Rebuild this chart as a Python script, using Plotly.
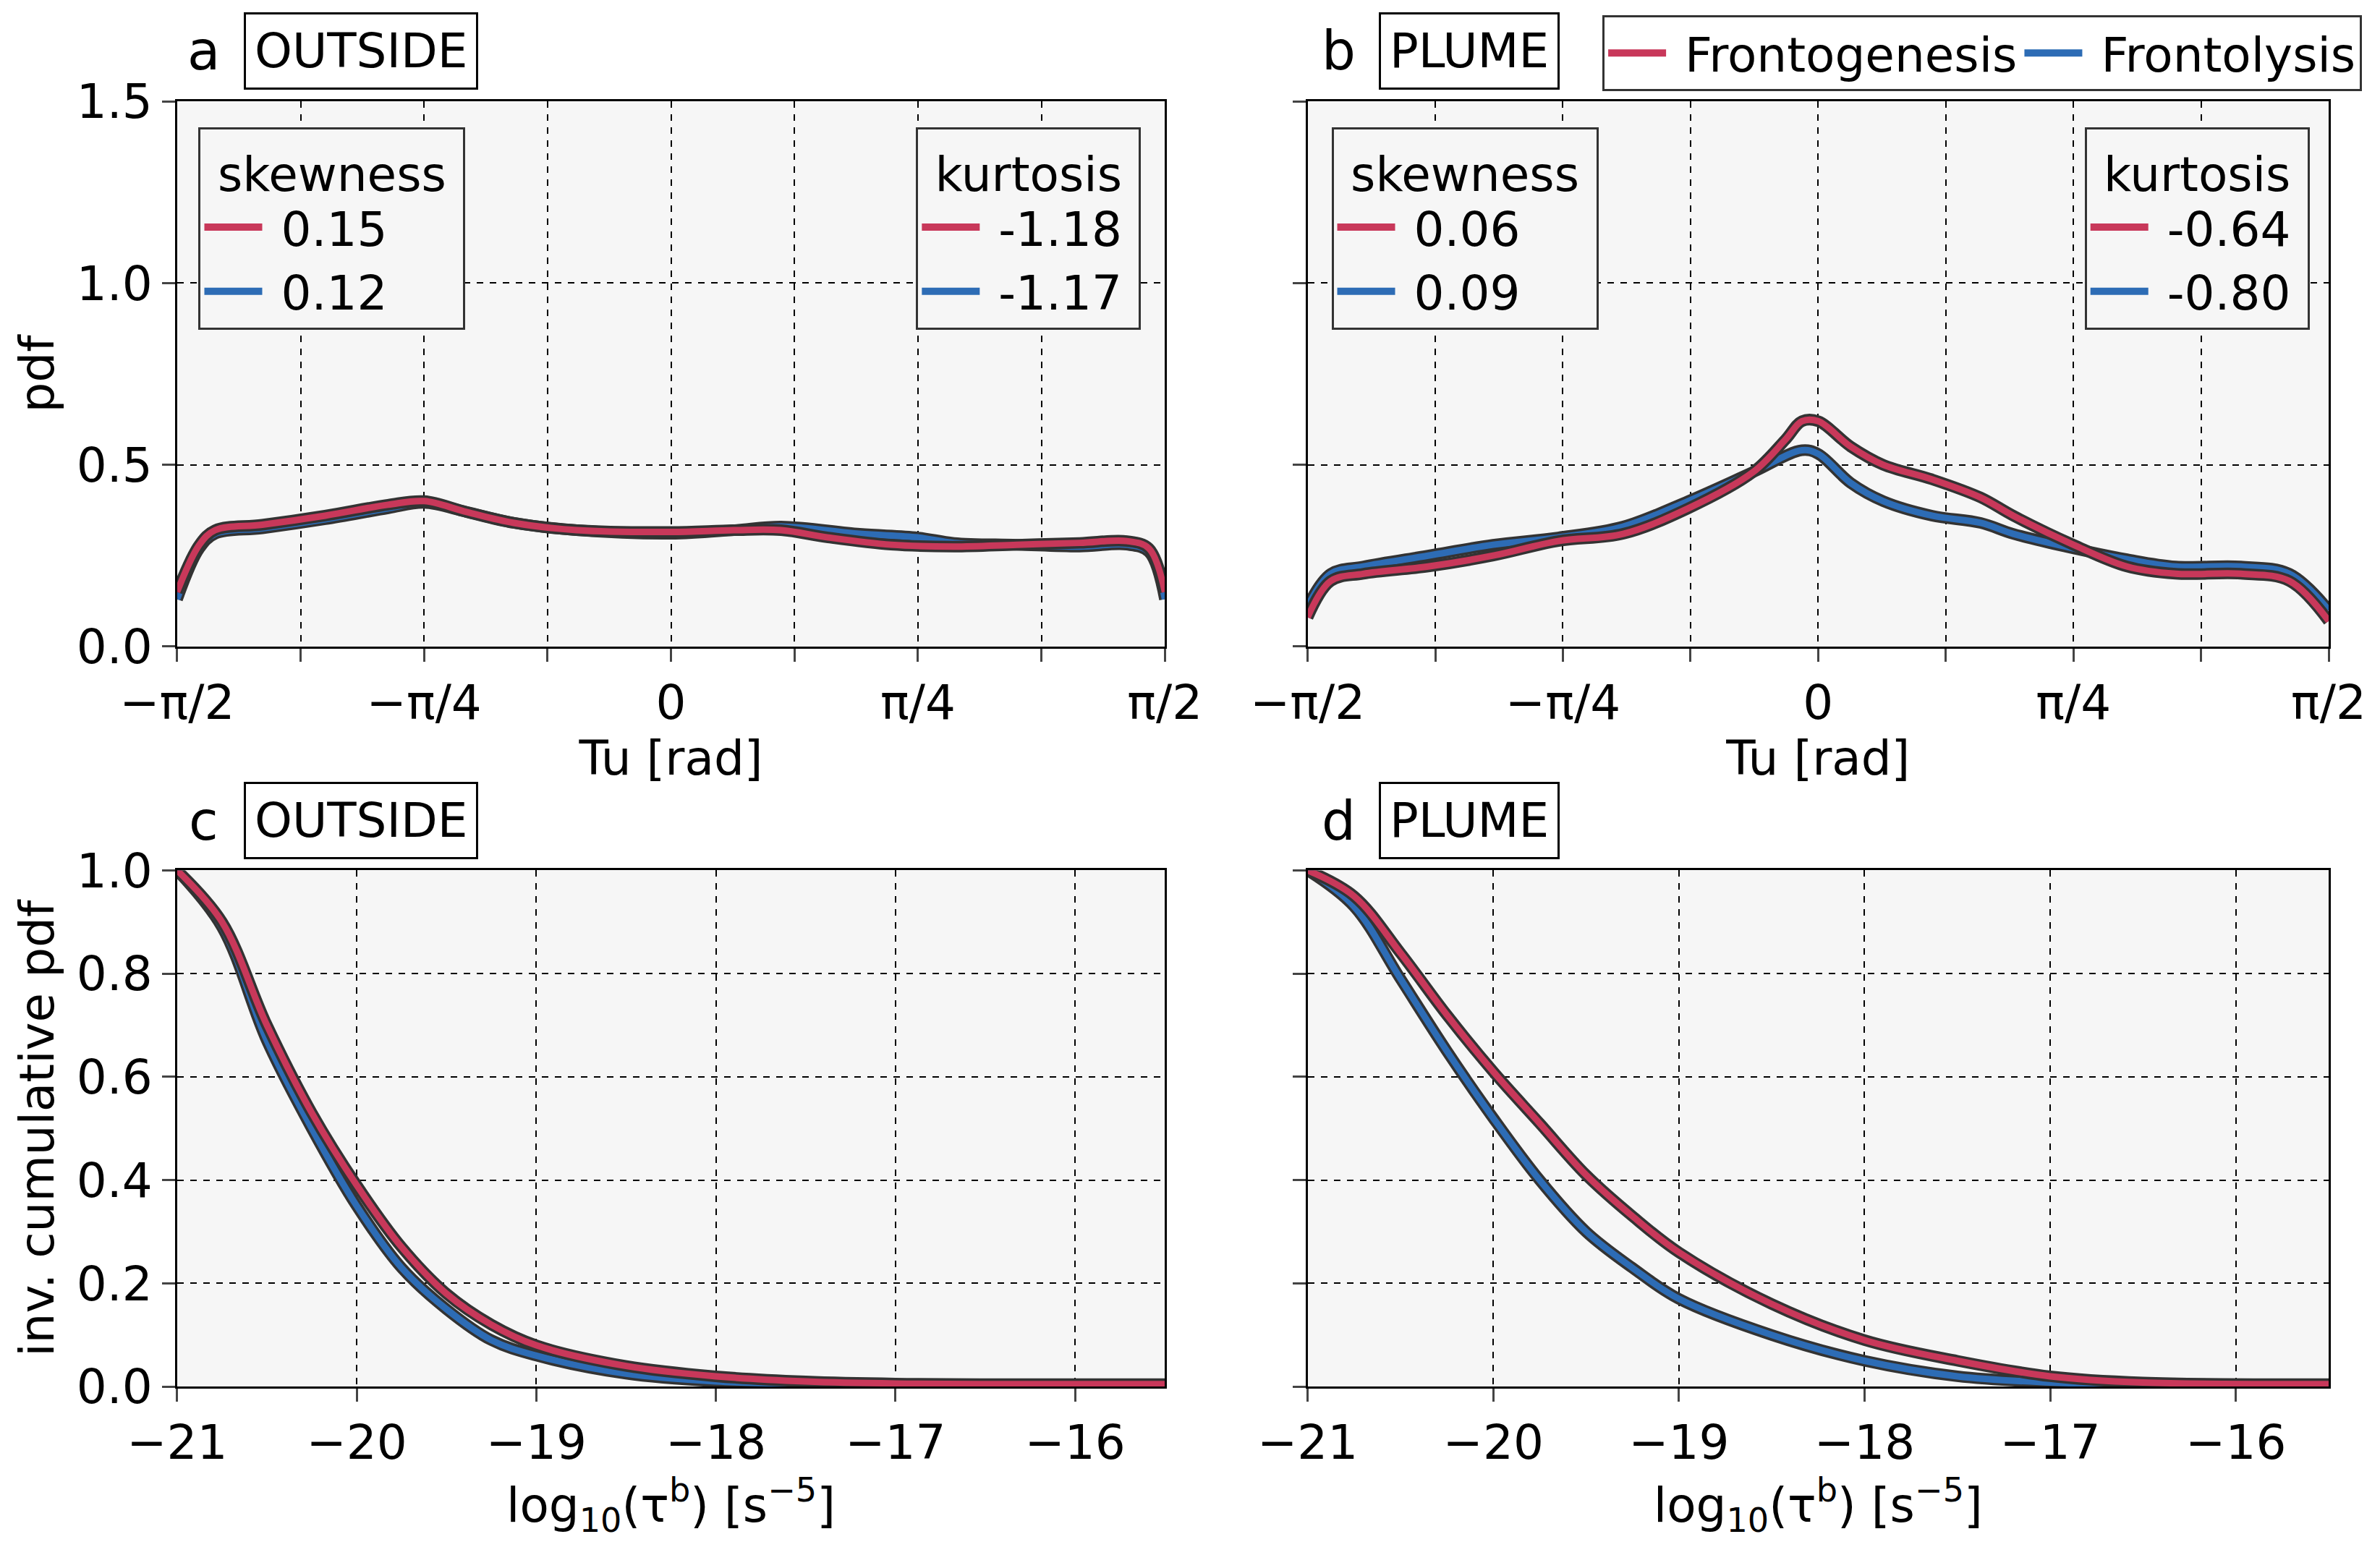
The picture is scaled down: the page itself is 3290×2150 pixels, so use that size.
import numpy as np
import plotly.graph_objects as go

RED = "#c8385a"
BLUE = "#2d6cb5"
EDGE = "#333333"
P = np.pi

# pdf of Turner angle (panel a: outside, panel b: plume)
tu_a = {
    "red": ([-1.571, -1.5, -1.45, -1.3, -1.1, -0.9, -0.785, -0.65, -0.5, -0.3, 0.0, 0.2, 0.35, 0.5, 0.7, 0.9, 1.1, 1.3, 1.45, 1.52, 1.571],
            [0.15, 0.28, 0.32, 0.335, 0.36, 0.39, 0.40, 0.37, 0.34, 0.32, 0.315, 0.32, 0.32, 0.30, 0.28, 0.275, 0.28, 0.285, 0.29, 0.27, 0.15]),
    "blue": ([-1.571, -1.5, -1.45, -1.3, -1.1, -0.9, -0.785, -0.65, -0.5, -0.3, 0.0, 0.2, 0.35, 0.6, 0.785, 0.9, 1.1, 1.3, 1.45, 1.52, 1.571],
             [0.13, 0.27, 0.31, 0.325, 0.35, 0.38, 0.395, 0.37, 0.34, 0.32, 0.31, 0.32, 0.33, 0.31, 0.30, 0.285, 0.28, 0.275, 0.28, 0.26, 0.13]),
}
tu_b = {
    "red": ([-1.571, -1.5, -1.4, -1.2, -1.0, -0.8, -0.6, -0.4, -0.2, -0.1, -0.05, 0.0, 0.1, 0.2, 0.35, 0.5, 0.6, 0.785, 0.95, 1.1, 1.3, 1.45, 1.571],
            [0.08, 0.18, 0.20, 0.22, 0.25, 0.29, 0.31, 0.38, 0.48, 0.57, 0.62, 0.62, 0.55, 0.50, 0.46, 0.41, 0.36, 0.28, 0.22, 0.20, 0.20, 0.18, 0.07]),
    "blue": ([-1.571, -1.5, -1.4, -1.2, -1.0, -0.8, -0.6, -0.4, -0.2, -0.05, 0.0, 0.1, 0.2, 0.35, 0.5, 0.6, 0.785, 0.95, 1.1, 1.3, 1.45, 1.571],
             [0.11, 0.20, 0.22, 0.25, 0.28, 0.30, 0.33, 0.40, 0.48, 0.54, 0.53, 0.45, 0.40, 0.36, 0.34, 0.31, 0.27, 0.24, 0.22, 0.22, 0.20, 0.10]),
}
# inverse cumulative pdf of log10(tau^b)
tb_c = {
    "red": ([-21, -20.75, -20.5, -20.25, -20, -19.75, -19.5, -19.25, -19, -18.5, -18, -17.5, -17, -15.5],
            [1.0, 0.90, 0.70, 0.53, 0.39, 0.27, 0.18, 0.12, 0.08, 0.04, 0.02, 0.01, 0.006, 0.005]),
    "blue": ([-21, -20.75, -20.5, -20.25, -20, -19.75, -19.5, -19.25, -19, -18.5, -18, -17.5, -17, -15.5],
             [1.0, 0.89, 0.67, 0.50, 0.35, 0.23, 0.15, 0.09, 0.06, 0.025, 0.01, 0.005, 0.003, 0.002]),
}
tb_d = {
    "red": ([-21, -20.75, -20.5, -20.25, -20, -19.75, -19.5, -19.25, -19, -18.5, -18, -17.5, -17, -16.5, -15.5],
            [1.0, 0.95, 0.84, 0.72, 0.61, 0.51, 0.41, 0.33, 0.26, 0.16, 0.09, 0.05, 0.02, 0.008, 0.005]),
    "blue": ([-21, -20.75, -20.5, -20.25, -20, -19.75, -19.5, -19.25, -19, -18.5, -18, -17.5, -17, -16.5, -15.5],
             [1.0, 0.93, 0.79, 0.65, 0.52, 0.40, 0.30, 0.23, 0.17, 0.10, 0.05, 0.02, 0.008, 0.003, 0.002]),
}

fig = go.Figure()
FS = 66


def add_pair(data, xa, ya, legends):
    for key, col in (("blue", BLUE), ("red", RED)):
        x, y = data[key]
        fig.add_trace(go.Scatter(x=x, y=y, xaxis=xa, yaxis=ya, mode="lines", line_shape="spline",
                                 line=dict(color=EDGE, width=16), showlegend=False, hoverinfo="skip"))
        fig.add_trace(go.Scatter(x=x, y=y, xaxis=xa, yaxis=ya, mode="lines", line_shape="spline",
                                 line=dict(color=col, width=9), showlegend=False))
    # legend-only entries
    for lg, names in legends:
        for name, col in zip(names, (RED, BLUE)):
            fig.add_trace(go.Scatter(x=[None], y=[None], xaxis=xa, yaxis=ya, mode="lines",
                                     line=dict(color=col, width=14), name=" " + name, legend=lg))


add_pair(tu_a, "x", "y", [("legend2", ["0.15", "0.12"]), ("legend3", ["-1.18", "-1.17"])])
add_pair(tu_b, "x2", "y2", [("legend4", ["0.06", "0.09"]), ("legend5", ["-0.64", "-0.80"]),
                            ("legend", ["Frontogenesis", "Frontolysis"])])
add_pair(tb_c, "x3", "y3", [])
add_pair(tb_d, "x4", "y4", [])

tu_vals = [i * P / 8 for i in range(-4, 5)]
tu_text = ["−π/2", "", "−π/4", "", "0", "", "π/4", "", "π/2"]

ax = dict(showline=True, linecolor="black", linewidth=3, mirror=True, ticks="outside", ticklen=18,
          tickwidth=3, tickfont=dict(size=FS), showgrid=True, gridcolor="black", griddash="dash",
          gridwidth=1.5, zeroline=False, automargin=False)
dom_x = [[0.072, 0.487], [0.547, 0.976]]
dom_y = [[0.588, 0.9385], [0.112, 0.444]]

lay = dict(width=3290, height=2150, plot_bgcolor="#f6f6f6", paper_bgcolor="white",
           font=dict(family="DejaVu Sans", size=FS, color="black"),
           margin=dict(l=0, r=0, t=0, b=0))
for i, (xd, yd) in enumerate([(0, 0), (1, 0), (0, 1), (1, 1)]):
    n = "" if i == 0 else str(i + 1)
    xa = dict(ax, domain=dom_x[xd], anchor="y" + n)
    ya = dict(ax, domain=dom_y[yd], anchor="x" + n)
    if yd == 0:
        xa.update(range=[-P / 2, P / 2], tickvals=tu_vals, ticktext=tu_text,
                  title=dict(text="Tu [rad]", font=dict(size=FS), standoff=10))
        ya.update(range=[0, 1.5], dtick=0.5, tickformat=".1f")
    else:
        xa.update(range=[-21, -15.5], dtick=1, tickformat="d",
                  title=dict(text="log<sub>10</sub>(τ<sup>b</sup>) [s<sup>−5</sup>]", font=dict(size=FS), standoff=8))
        ya.update(range=[0, 1], dtick=0.2, tickformat=".1f")
    if xd == 1:
        ya.update(showticklabels=False)
    else:
        ya.update(title=dict(text="pdf" if yd == 0 else "inv. cumulative pdf", font=dict(size=FS), standoff=10))
    lay["xaxis" + n] = xa
    lay["yaxis" + n] = ya

lbox = dict(bgcolor="#f6f6f6", bordercolor=EDGE, borderwidth=3, font=dict(size=FS),
            yanchor="top", tracegroupgap=0, itemwidth=80, entrywidth=0)
tfont = dict(size=FS)
lay["legend2"] = dict(lbox, x=0.081, xanchor="left", y=0.922, title=dict(text=" skewness ", side="top center", font=tfont))
lay["legend3"] = dict(lbox, x=0.477, xanchor="right", y=0.922, title=dict(text=" kurtosis ", side="top center", font=tfont))
lay["legend4"] = dict(lbox, x=0.557, xanchor="left", y=0.922, title=dict(text=" skewness ", side="top center", font=tfont))
lay["legend5"] = dict(lbox, x=0.968, xanchor="right", y=0.922, title=dict(text=" kurtosis ", side="top center", font=tfont))
lay["legend"] = dict(lbox, x=0.99, xanchor="right", y=0.994, orientation="h", bgcolor="white")
fig.update_layout(**lay)

for lab, tag, x, y in [("a", "OUTSIDE", 0.083, 0.971), ("b", "PLUME", 0.56, 0.971),
                       ("c", "OUTSIDE", 0.083, 0.476), ("d", "PLUME", 0.56, 0.476)]:
    fig.add_annotation(text=lab, x=x, y=y, xref="paper", yref="paper", showarrow=False,
                       font=dict(size=74), xanchor="center", yanchor="middle")
    fig.add_annotation(text=tag, x=x + 0.017, y=y, xref="paper", yref="paper", showarrow=False,
                       font=dict(size=FS), xanchor="left", yanchor="middle",
                       bordercolor="black", borderwidth=3, borderpad=12, bgcolor="white")

fig.write_html("out.html")
